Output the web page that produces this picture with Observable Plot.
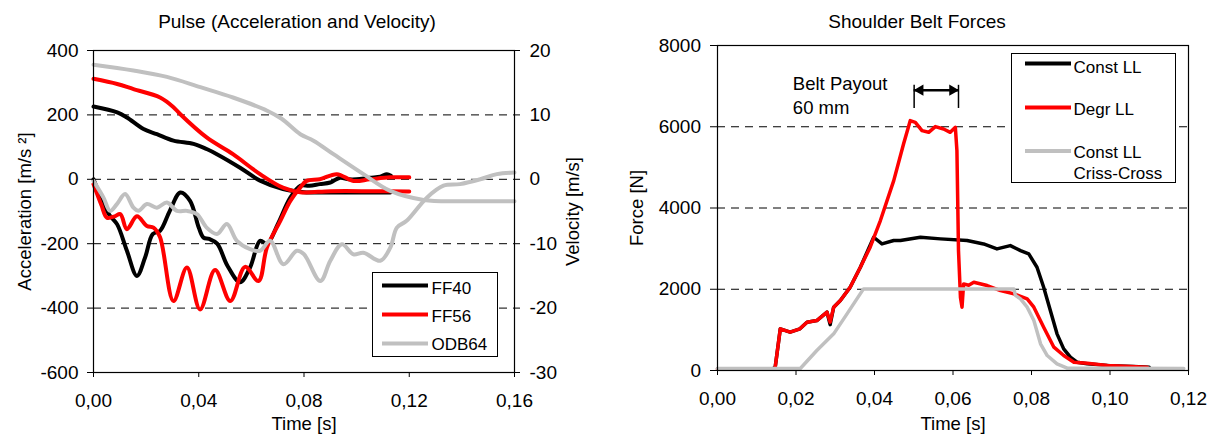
<!DOCTYPE html>
<html><head><meta charset="utf-8">
<script src="https://cdn.jsdelivr.net/npm/d3@7"></script>
<script src="https://cdn.jsdelivr.net/npm/@observablehq/plot@0.6"></script>
<style>
body{margin:0;background:#fff;}
#wrap{position:relative;width:1214px;height:436px;font-family:"Liberation Sans",Arial,sans-serif;overflow:hidden;}
.chart{position:absolute;top:0;}
.legend{position:absolute;border:1px solid #000;background:#fff;box-sizing:border-box;}
.legend svg{position:absolute;left:0;top:0;overflow:visible;}
.legend text{font-family:"Liberation Sans",Arial,sans-serif;font-size:17px;fill:#000;}
</style></head>
<body><div id="wrap"></div>
<script>
// ---------- Left chart: Pulse ----------
const titleL = "Pulse (Acceleration and Velocity)";
const timeTicksL = [0, 0.04, 0.08, 0.12, 0.16];
const accTicks = [-600, -400, -200, 0, 200, 400];
const velTicks = [-30, -20, -10, 0, 10, 20];
const accGrid = [200, 0, -200, -400];
const pulseNames = ["FF40", "FF56", "ODB64"];
const pulseColors = ["#000000", "#ff0000", "#c0c0c0"];

// acceleration [m/s^2]
const ff40AccT = [0, .003, .006, .009, .0127, .0165, .0196, .0225, .0253, .029, .033, .0367, .040, .0418, .044, .047, .051, .0557, .0595, .0633, .066, .070, .0748, .0786, .082, .086, .090, .0937, .097, .100, .105, .109, .1115, .113];
const ff40Acc  = [0, -60, -110, -140, -222, -300, -243, -170, -160, -98, -41, -67, -150, -181, -185, -200, -270, -320, -274, -191, -200, -140, -57, -20, -20, -15, -10, 5, 0, 0, 5, 8, 16, 11];
const ff56AccT = [0, .003, .0051, .008, .0102, .0127, .0165, .0203, .0228, .0253, .0304, .0355, .0405, .0462, .052, .0576, .0627, .0659, .071, .0748, .0786, .081, .086, .0925, .0988, .105, .1128, .12];
const ff56Acc  = [-15, -80, -119, -115, -108, -155, -115, -145, -150, -180, -378, -274, -404, -282, -378, -272, -316, -212, -129, -67, -25, -5, 0, 16, -5, 0, 6, 6];
const odbAccT  = [0, .0038, .0063, .0089, .012, .0152, .0171, .0203, .0241, .0279, .0317, .0355, .0393, .043, .0469, .0507, .0545, .0595, .0633, .0671, .0722, .0773, .0800, .0862, .090, .0944, .0988, .1026, .109, .1128, .1153, .119, .1267, .133, .1393, .147, .1533, .16];
const odbAcc   = [-5, -57, -98, -77, -46, -88, -98, -77, -88, -72, -98, -98, -108, -150, -170, -139, -191, -217, -222, -191, -264, -222, -233, -316, -253, -202, -233, -228, -253, -212, -150, -129, -57, -20, -15, 0, 16, 21];

// velocity [m/s]
const ff40VelT = [0, .009, .0127, .019, .0241, .0304, .038, .043, .0469, .0557, .0633, .072, .080, .090, .1128];
const ff40Vel  = [11.3, 10.4, 9.6, 7.8, 7.0, 6.0, 5.5, 4.7, 3.9, 1.8, -0.2, -1.5, -2.0, -2.05, -2.05];
const ff56VelT = [0, .009, .0152, .0253, .0304, .033, .043, .053, .0633, .072, .0785, .090, .105, .12];
const ff56Vel  = [15.6, 14.8, 14.0, 12.7, 11.2, 10.1, 6.5, 3.9, 0.8, -1.3, -2.0, -1.85, -1.85, -1.9];
const odbVelT  = [0, .0152, .0279, .0406, .053, .066, .0715, .0786, .0836, .0912, .1026, .1128, .1255, .14, .16];
const odbVel   = [17.8, 16.9, 15.9, 14.3, 12.7, 10.65, 9.4, 7.0, 6.0, 3.9, 0.8, -1.8, -3.2, -3.4, -3.4];

// ---------- Right chart: Shoulder Belt Forces ----------
const titleR = "Shoulder Belt Forces";
const timeTicksR = [0, 0.02, 0.04, 0.06, 0.08, 0.10, 0.12];
const forceTicks = [0, 2000, 4000, 6000, 8000];
const forceGrid = [2000, 4000, 6000];
const beltNames = ["Const LL", "Degr LL", "Const LL\nCriss-Cross"];
const beltColors = ["#000000", "#ff0000", "#c0c0c0"];

const constT = [0, .014, .0147, .016, .0185, .021, .0228, .0253, .0279, .0287, .0296, .0313, .0338, .0364, .0398, .0419, .0449, .0466, .0517, .0568, .0636, .0678, .0712, .0746, .0772, .0793, .0814, .0831, .0848, .0865, .0882, .0899, .0916, .0942, .100, .106, .110];
const constF = [40, 40, 82, 1026, 943, 1026, 1189, 1230, 1435, 1130, 1558, 1722, 2050, 2542, 3280, 3117, 3200, 3198, 3280, 3240, 3198, 3116, 2993, 3075, 2952, 2870, 2542, 2050, 1476, 902, 533, 328, 205, 164, 120, 98, 80];
const degrT = [0, .014, .0147, .016, .0185, .021, .0228, .0253, .0279, .0287, .0296, .0313, .0338, .0364, .0389, .0415, .0449, .0474, .0491, .0504, .0521, .0538, .0555, .0576, .0593, .0606, .0610, .0614, .0619, .0623, .0627, .0640, .0653, .0687, .0721, .0755, .0789, .0806, .0831, .0857, .0882, .0908, .0942, .0993, .1095];
const degrF = [40, 40, 82, 1026, 943, 1026, 1189, 1230, 1435, 1189, 1558, 1722, 2050, 2542, 3034, 3692, 4674, 5577, 6150, 6109, 5904, 5863, 6003, 5945, 5863, 5986, 5412, 2952, 1800, 1558, 2132, 2100, 2173, 2091, 1968, 1886, 1763, 1558, 1066, 574, 369, 205, 180, 123, 82];
const crissT = [0, .0211, .0253, .0296, .033, .0372, .0755, .0759, .0772, .0789, .0806, .0823, .084, .0865, .0891, .1188];
const crissF = [50, 50, 492, 902, 1394, 2009, 2009, 1850, 1763, 1558, 1230, 656, 369, 164, 60, 50];

const payoutT = [0.0501, 0.0614];
const payoutF = 6900;
const payoutBar = [6450, 7020];
const payoutText = "Belt Payout\n60 mm";

// ---------- helpers ----------
const FONT = '"Liberation Sans", Arial, sans-serif';
const fmtT = d => d.toFixed(2).replace(".", ",");
const velScale = 20; // 20 m/s on the right axis spans 400 m/s² on the left axis
const rows = (ts, vs, k = 1) => ts.map((t, i) => ({t, v: vs[i] * k}));
const label = (txt, o) => Plot.text([txt], {textAnchor: "middle", lineAnchor: "middle", fontSize: 18.5, ...o});

const accSeries = [rows(ff40AccT, ff40Acc), rows(ff56AccT, ff56Acc), rows(odbAccT, odbAcc)];
const velSeries = [rows(ff40VelT, ff40Vel, velScale), rows(ff56VelT, ff56Vel, velScale), rows(odbVelT, odbVel, velScale)];

const leftMarks = [Plot.ruleY(accGrid, {stroke: "#000", strokeWidth: 1, strokeDasharray: "8,6"})];
for (let i = 0; i < 3; i++) {
  leftMarks.push(Plot.line(velSeries[i], {x: "t", y: "v", stroke: pulseColors[i], strokeWidth: 4, curve: "catmull-rom"}));
  leftMarks.push(Plot.line(accSeries[i], {x: "t", y: "v", stroke: pulseColors[i], strokeWidth: 4, curve: "catmull-rom"}));
}
leftMarks.push(
  Plot.frame({stroke: "#000", strokeWidth: 1.2}),
  Plot.axisX({ticks: timeTicksL, tickFormat: fmtT, tickSize: 5, tickPadding: 16, label: null}),
  Plot.axisY({ticks: accTicks, tickFormat: d => String(d), tickSize: 6, tickPadding: 9, label: null}),
  Plot.axisY({anchor: "right", ticks: velTicks.map(v => v * velScale), tickFormat: d => String(d / velScale), tickSize: 5, tickPadding: 10, label: null}),
  label(titleL, {frameAnchor: "top", dy: -29, dx: -7, fontSize: 19}),
  label("Time [s]", {frameAnchor: "bottom", dy: 52}),
  label("Acceleration [m/s ²]", {frameAnchor: "left", dx: -68, rotate: -90}),
  label("Velocity [m/s]", {frameAnchor: "right", dx: 59, rotate: -90})
);

const left = Plot.plot({
  width: 607, height: 436,
  marginLeft: 93, marginRight: 93, marginTop: 50, marginBottom: 64,
  style: {fontFamily: FONT, fontSize: "19px", color: "#000", background: "transparent", overflow: "visible"},
  x: {domain: [0, 0.16]},
  y: {domain: [-600, 400]},
  marks: leftMarks
});

const beltSeries = [rows(constT, constF), rows(degrT, degrF), rows(crissT, crissF)];
const rightMarks = [Plot.ruleY(forceGrid, {stroke: "#000", strokeWidth: 1, strokeDasharray: "8,6"})];
for (let i = 0; i < 3; i++) {
  rightMarks.push(Plot.line(beltSeries[i], {x: "t", y: "v", stroke: beltColors[i], strokeWidth: 3.5, strokeLinejoin: "round"}));
}
rightMarks.push(
  Plot.frame({stroke: "#000", strokeWidth: 1.2}),
  Plot.axisX({ticks: timeTicksR, tickFormat: fmtT, tickSize: 5, tickPadding: 16, label: null}),
  Plot.axisY({ticks: forceTicks, tickFormat: d => String(d), tickSize: 7, tickPadding: 9.5, label: null}),
  label(titleR, {frameAnchor: "top", dy: -24, dx: -36, fontSize: 19}),
  label("Time [s]", {frameAnchor: "bottom", dy: 54}),
  label("Force [N]", {frameAnchor: "left", dx: -80, rotate: -90}),
  // payout annotation
  Plot.text([payoutText], {x: 0.0192, y: 7330, textAnchor: "start", lineAnchor: "top", lineHeight: 1.3, fontSize: 18.5}),
  Plot.ruleY([payoutF], {x1: payoutT[0] , x2: payoutT[1], stroke: "#000", strokeWidth: 2.5}),
  Plot.ruleX(payoutT, {y1: payoutBar[0], y2: payoutBar[1], stroke: "#000", strokeWidth: 1.5}),
  Plot.dot([payoutT[0]], {x: d => d, y: payoutF, symbol: "triangle", r: 4.2, fill: "#000", stroke: "none", rotate: -90, dx: 6}),
  Plot.dot([payoutT[1]], {x: d => d, y: payoutF, symbol: "triangle", r: 4.2, fill: "#000", stroke: "none", rotate: 90, dx: -6})
);

const right = Plot.plot({
  width: 607, height: 436,
  marginLeft: 110, marginRight: 26, marginTop: 45, marginBottom: 66,
  style: {fontFamily: FONT, fontSize: "19px", color: "#000", background: "transparent", overflow: "visible"},
  x: {domain: [0, 0.12]},
  y: {domain: [0, 8000]},
  marks: rightMarks
});

const wrap = document.getElementById("wrap");
left.classList.add("chart"); left.style.left = "0px";
right.classList.add("chart"); right.style.left = "607px";
wrap.appendChild(left);
wrap.appendChild(right);

// ---------- legends ----------
function legend(box, names, colors, lineX, rowsY, textX, textY, lw) {
  const div = document.createElement("div");
  div.className = "legend";
  Object.assign(div.style, {left: box[0] + "px", top: box[1] + "px", width: box[2] + "px", height: box[3] + "px"});
  const ns = "http://www.w3.org/2000/svg";
  const svg = document.createElementNS(ns, "svg");
  svg.setAttribute("width", box[2]); svg.setAttribute("height", box[3]);
  names.forEach((name, i) => {
    const ln = document.createElementNS(ns, "line");
    ln.setAttribute("x1", lineX[0]); ln.setAttribute("x2", lineX[1]);
    ln.setAttribute("y1", rowsY[i]); ln.setAttribute("y2", rowsY[i]);
    ln.setAttribute("stroke", colors[i]); ln.setAttribute("stroke-width", lw);
    svg.appendChild(ln);
    name.split("\n").forEach((part, j) => {
      const tx = document.createElementNS(ns, "text");
      tx.setAttribute("x", textX); tx.setAttribute("y", textY[i] + j * 21);
      tx.textContent = part;
      svg.appendChild(tx);
    });
  });
  div.appendChild(svg);
  wrap.appendChild(div);
}
legend([372, 272, 126, 85], pulseNames, pulseColors, [9, 55], [12.5, 41.5, 70.5], 58.5, [20.5, 48.5, 76.5], 4);
legend([1011, 53, 165, 130], beltNames, beltColors, [13, 59], [9.5, 53.5, 97], 61.5, [18.5, 60.5, 104], 4);
</script>
</body></html>
